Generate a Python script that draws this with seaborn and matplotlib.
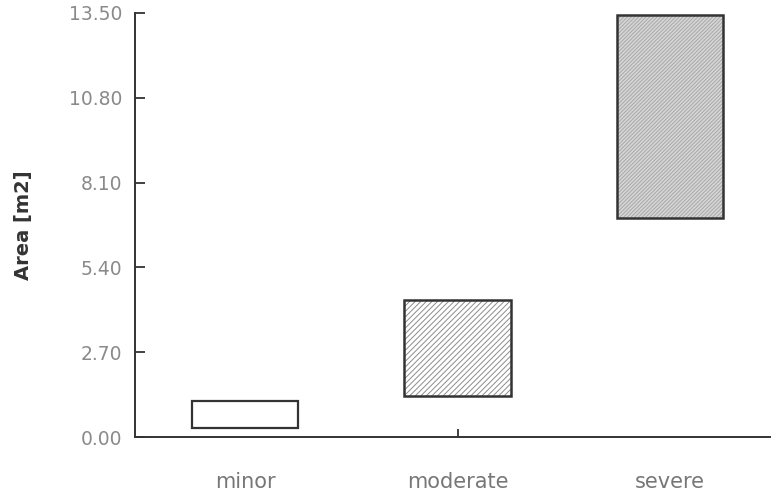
import matplotlib
matplotlib.use("Agg")
import matplotlib.pyplot as plt
from matplotlib.patches import Rectangle
import seaborn as sns
import pandas as pd

categories = ["minor", "moderate", "severe"]
low = [0.29, 1.30, 6.97]
high = [1.16, 4.36, 13.42]
yticks = [0.00, 2.70, 5.40, 8.10, 10.80, 13.50]

sns.set_style("white")
plt.rcParams['font.family'] = ['DejaVu Sans']
plt.rcParams['hatch.linewidth'] = 0.7

df = pd.DataFrame({"cat": categories, "low": low, "high": high})
df["span"] = df["high"] - df["low"]

fig = plt.figure(figsize=(7.79, 4.95), dpi=100)
ax = fig.add_axes([0.173, 0.117, 0.815, 0.857])

sns.barplot(data=df, x="cat", y="span", order=categories, ax=ax, width=0.5,
            color="white", edgecolor="#333333", linewidth=1.6)

faces = ["white", "white", "#d6d6d6"]
hatches = [None, "//////", "/////////"]
hatch_cols = [None, "#8c8c8c", "#a8a8a8"]
for patch, lo, fc, h, hc in zip(list(ax.patches), df["low"], faces, hatches, hatch_cols):
    patch.set_y(lo)
    patch.set_facecolor(fc)
    if h:
        patch.set_hatch(h)
        patch.set_edgecolor(hc)
        patch.set_linewidth(0)
        outline = Rectangle(patch.get_xy(), patch.get_width(), patch.get_height(),
                            facecolor="none", edgecolor="#333333", linewidth=1.8, zorder=3)
        ax.add_patch(outline)

ax.set_ylim(0, 13.5)
ax.set_xlim(-0.52, 2.47)
ax.set_yticks(yticks)
ax.set_yticklabels([f"{v:.2f}" for v in yticks])
ax.set_xlabel("")
ax.set_ylabel("Area [m2]", fontsize=14, fontweight="bold", color="#333333", labelpad=26)

for s in ["top", "right"]:
    ax.spines[s].set_visible(False)
for s in ["left", "bottom"]:
    ax.spines[s].set_color("#333333")
    ax.spines[s].set_linewidth(1.4)

ax.tick_params(axis="y", direction="in", length=7, width=1.3, color="#333333",
               labelsize=13.5, labelcolor="#8a8a8a", pad=9, left=True)
ax.tick_params(axis="x", direction="in", length=6, width=1.3, color="#333333",
               labelsize=15, labelcolor="#777777", pad=25, bottom=True)
xt = ax.xaxis.get_major_ticks()
for i, t in enumerate(xt):
    if i != 1:
        t.tick1line.set_visible(False)

fig.savefig("out.png", dpi=100)
